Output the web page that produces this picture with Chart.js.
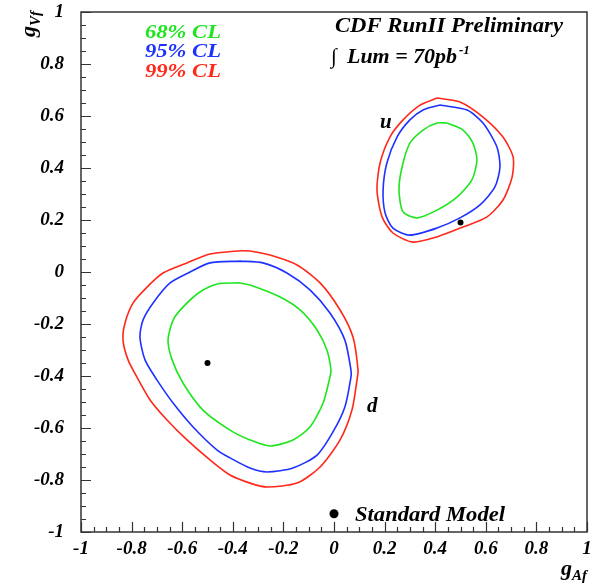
<!DOCTYPE html>
<html>
<head>
<meta charset="utf-8">
<script src="https://cdn.jsdelivr.net/npm/chart.js@4.4.1/dist/chart.umd.min.js"></script>
<style>
  body { margin: 0; background: #fff; }
  canvas { display: block; }
</style>
</head>
<body>
<canvas id="cl" width="604" height="587"></canvas>
<script>
// --- axis ticks ---
const tickVals = [-1, -0.8, -0.6, -0.4, -0.2, 0, 0.2, 0.4, 0.6, 0.8, 1];
const tickLabels = ['-1', '-0.8', '-0.6', '-0.4', '-0.2', '0', '0.2', '0.4', '0.6', '0.8', '1'];

// --- d quark contours (gA, gV) ---
const dRedA = [-0.372, -0.332, -0.253, -0.146, -0.055, 0.024, 0.075, 0.095, 0.091, 0.071, 0.024, -0.055, -0.146, -0.265, -0.332, -0.411, -0.490, -0.581, -0.660, -0.727, -0.779, -0.814, -0.834, -0.826, -0.794, -0.739, -0.676, -0.581, -0.490, -0.372];
const dRedV = [0.082, 0.081, 0.065, 0.027, -0.042, -0.146, -0.250, -0.377, -0.415, -0.531, -0.646, -0.750, -0.812, -0.827, -0.812, -0.781, -0.723, -0.646, -0.569, -0.492, -0.404, -0.338, -0.262, -0.196, -0.119, -0.058, -0.004, 0.035, 0.069, 0.082];

const dBlueA = [-0.372, -0.281, -0.186, -0.095, -0.016, 0.043, 0.067, 0.067, 0.043, -0.004, -0.067, -0.162, -0.265, -0.332, -0.411, -0.462, -0.557, -0.636, -0.700, -0.747, -0.767, -0.755, -0.715, -0.648, -0.569, -0.490, -0.372];
const dBlueV = [0.042, 0.035, -0.004, -0.069, -0.158, -0.262, -0.377, -0.404, -0.519, -0.615, -0.704, -0.754, -0.769, -0.754, -0.715, -0.685, -0.596, -0.504, -0.415, -0.338, -0.250, -0.185, -0.119, -0.042, 0.000, 0.035, 0.042];

const dGreenA = [-0.372, -0.332, -0.213, -0.134, -0.067, -0.028, -0.012, -0.016, -0.043, -0.095, -0.162, -0.253, -0.332, -0.411, -0.518, -0.597, -0.640, -0.656, -0.636, -0.597, -0.530, -0.462, -0.372];
const dGreenV = [-0.042, -0.050, -0.096, -0.146, -0.223, -0.300, -0.377, -0.404, -0.504, -0.596, -0.646, -0.669, -0.646, -0.608, -0.531, -0.427, -0.338, -0.262, -0.185, -0.135, -0.077, -0.046, -0.042];

// --- u quark contours (gA, gV) ---
const uRedA = [0.407, 0.498, 0.589, 0.668, 0.708, 0.704, 0.668, 0.605, 0.510, 0.407, 0.312, 0.233, 0.190, 0.170, 0.182, 0.221, 0.273, 0.340, 0.407];
const uRedV = [0.669, 0.654, 0.596, 0.519, 0.442, 0.365, 0.277, 0.212, 0.173, 0.135, 0.115, 0.150, 0.212, 0.315, 0.419, 0.519, 0.585, 0.642, 0.669];

const uBlueA = [0.419, 0.526, 0.589, 0.644, 0.656, 0.636, 0.577, 0.498, 0.407, 0.300, 0.233, 0.202, 0.194, 0.209, 0.249, 0.300, 0.352, 0.419];
const uBlueV = [0.642, 0.623, 0.573, 0.481, 0.404, 0.327, 0.258, 0.208, 0.169, 0.142, 0.169, 0.227, 0.315, 0.419, 0.519, 0.585, 0.623, 0.642];

const uGreenA = [0.447, 0.510, 0.549, 0.565, 0.545, 0.486, 0.407, 0.328, 0.273, 0.257, 0.269, 0.300, 0.352, 0.407, 0.447];
const uGreenV = [0.573, 0.546, 0.496, 0.431, 0.354, 0.288, 0.238, 0.208, 0.231, 0.315, 0.404, 0.496, 0.546, 0.573, 0.573];

// --- marker points ---
const fitA = [-0.50, 0.50];
const fitV = [-0.35, 0.19];
const smLegendA = [0];
const smLegendV = [-0.93];

const GREEN = 'rgb(30,230,30)';
const BLUE = 'rgb(30,50,255)';
const RED = 'rgb(255,40,25)';
const SERIF = '"Liberation Serif", "DejaVu Serif", serif';
const BI = (px) => 'italic bold ' + px + 'px ' + SERIF;

const pts = (a, v) => a.map((x, i) => ({ x: x, y: v[i] }));

function contour(label, a, v, color) {
    return {
        label: label,
        data: pts(a, v),
        showLine: true,
        borderColor: color,
        backgroundColor: color,
        borderWidth: 1.6,
        pointRadius: 0,
        tension: 0.25,
        fill: false
    };
}

// draw text stretched sideways so it spans a given width (the original font is wider)
function wideText(c, str, x, y, font, width) {
    c.save();
    c.font = font;
    const k = width / c.measureText(str).width;
    c.translate(x, y);
    c.scale(k, 1);
    c.fillText(str, 0, 0);
    c.restore();
}

// frame, inward ticks and the free text of the plot
const decorPlugin = {
    id: 'decor',
    afterDraw(chart) {
        const c = chart.ctx;
        const a = chart.chartArea;
        const sx = chart.scales.x, sy = chart.scales.y;
        c.save();
        c.strokeStyle = '#333';
        c.lineWidth = 1.5;
        c.strokeRect(a.left, a.top, a.right - a.left, a.bottom - a.top);

        // ticks every 0.05, long ones at labelled values
        c.lineWidth = 1.2;
        c.beginPath();
        for (let i = 0; i <= 40; i++) {
            const v = -1 + i * 0.05;
            const len = (i % 4 === 0) ? 10 : 5;
            const px = Math.round(sx.getPixelForValue(v)) + 0.5;
            c.moveTo(px, a.bottom);
            c.lineTo(px, a.bottom - len);
            const py = Math.round(sy.getPixelForValue(v)) + 0.5;
            c.moveTo(a.left, py);
            c.lineTo(a.left + len, py);
        }
        c.stroke();

        c.textBaseline = 'alphabetic';
        c.textAlign = 'left';

        // CL legend
        c.fillStyle = GREEN; wideText(c, '68% CL', 145, 38, BI(19.5), 76);
        c.fillStyle = BLUE; wideText(c, '95% CL', 145, 57, BI(19.5), 76);
        c.fillStyle = RED; wideText(c, '99% CL', 145, 77, BI(19.5), 76);

        // header
        c.fillStyle = '#000';
        wideText(c, 'CDF RunII Preliminary', 335, 32, BI(21), 228);
        c.font = '21px ' + SERIF;
        c.fillText('\u222B', 331, 63);
        wideText(c, 'Lum = 70pb', 347, 63, BI(21), 110);
        c.font = BI(13);
        c.fillText('-1', 459, 54);

        // quark labels
        c.font = BI(21);
        c.fillText('u', 380, 128);
        c.fillText('d', 367, 412);

        // standard model legend text
        wideText(c, 'Standard Model', 355, 521, BI(21), 150);

        // axis titles
        c.font = BI(22);
        const gW = c.measureText('g').width;
        c.font = BI(15);
        const afW = c.measureText('Af').width;
        const xStart = a.right - gW - afW;
        c.font = BI(22);
        c.fillText('g', xStart, 575);
        c.font = BI(15);
        c.fillText('Af', xStart + gW, 580);

        c.save();
        c.translate(35, a.top - 1);
        c.rotate(-Math.PI / 2);
        c.font = BI(15);
        const vfW = c.measureText('Vf').width;
        c.font = BI(22);
        c.fillText('g', -gW - vfW, 0);
        c.font = BI(15);
        c.fillText('Vf', -vfW, 5);
        c.restore();

        c.restore();
    }
};

const tickFont = { family: SERIF, size: 19, style: 'italic', weight: 'bold' };

new Chart(document.getElementById('cl'), {
    type: 'scatter',
    data: {
        datasets: [
            contour('d 99% CL', dRedA, dRedV, RED),
            contour('d 95% CL', dBlueA, dBlueV, BLUE),
            contour('d 68% CL', dGreenA, dGreenV, GREEN),
            contour('u 99% CL', uRedA, uRedV, RED),
            contour('u 95% CL', uBlueA, uBlueV, BLUE),
            contour('u 68% CL', uGreenA, uGreenV, GREEN),
            {
                label: 'fit',
                data: pts(fitA, fitV),
                pointRadius: 3,
                pointBackgroundColor: '#000',
                pointBorderWidth: 0
            },
            {
                label: 'Standard Model',
                data: pts(smLegendA, smLegendV),
                pointRadius: 4.5,
                pointBackgroundColor: '#000',
                pointBorderWidth: 0
            }
        ]
    },
    options: {
        responsive: false,
        animation: false,
        layout: { padding: { left: 0, right: 17, top: 12, bottom: 0 } },
        plugins: {
            legend: { display: false },
            tooltip: { enabled: false }
        },
        scales: {
            x: {
                type: 'linear',
                min: -1,
                max: 1,
                grid: { display: false },
                border: { display: false },
                afterBuildTicks: (s) => { s.ticks = tickVals.map(v => ({ value: v })); },
                afterFit: (s) => { s.height = 55; s.paddingLeft = 0; s.paddingRight = 0; },
                ticks: {
                    color: '#000',
                    font: tickFont,
                    padding: -2,
                    maxRotation: 0,
                    callback: (val, i) => tickLabels[i]
                }
            },
            y: {
                type: 'linear',
                min: -1,
                max: 1,
                grid: { display: false },
                border: { display: false },
                afterBuildTicks: (s) => { s.ticks = tickVals.map(v => ({ value: v })); },
                afterFit: (s) => { s.width = 81; s.paddingTop = 0; s.paddingBottom = 0; },
                ticks: {
                    color: '#000',
                    font: tickFont,
                    padding: 9,
                    callback: (val, i) => tickLabels[i]
                }
            }
        }
    },
    plugins: [decorPlugin]
});
</script>
</body>
</html>
